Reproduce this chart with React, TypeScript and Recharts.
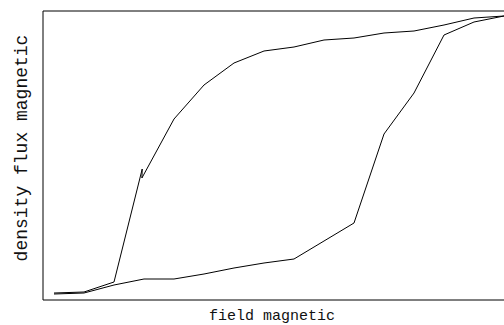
import React from 'react';
import { LineChart, Line, XAxis, YAxis, ReferenceArea, Customized } from 'recharts';

// Magnetic field (arbitrary units) and flux density (arbitrary units), traced in loop order
const upperField = [0, 1, 2, 2.94, 2.93, 4, 5, 6, 7, 8, 9, 10, 11, 12, 13, 14, 15];
const upperFlux = [1, 2, 12, 125, 116, 175, 209, 231, 243, 247, 254, 256, 261, 263, 269, 276, 278];
const lowerField = [14, 13, 12, 11, 10, 9, 8, 7, 6, 5, 4, 3, 2, 1, 0];
const lowerFlux = [272, 259, 201, 160, 71, 53, 35, 31, 26, 20, 15, 15, 9, 1, 0];

const xLabel = 'field magnetic';
const yLabel = 'density flux magnetic';

const data = [
  ...upperField.map((h, i) => ({ h, b: upperFlux[i] })),
  ...lowerField.map((h, i) => ({ h, b: lowerFlux[i] })),
];

const X_DOMAIN: [number, number] = [-0.367, 15.4];
const Y_DOMAIN: [number, number] = [-6, 283];

const Labels = () => (
  <g fontFamily="'Liberation Mono', 'DejaVu Sans Mono', monospace" fill="#111">
    <text x={272} y={320} fontSize={15} textAnchor="middle">{xLabel}</text>
    <text x={27} y={148} fontSize={18} textAnchor="middle" transform="rotate(-90 27 148)">{yLabel}</text>
  </g>
);

export default function App() {
  return (
    <div style={{ position: 'absolute', left: 0, top: 0, width: 504, height: 325, overflow: 'hidden', background: '#fff' }}>
      <LineChart width={530} height={325} data={data} margin={{ top: 11, left: 43, right: 14, bottom: 25 }}>
        <XAxis dataKey="h" type="number" domain={X_DOMAIN} hide allowDataOverflow />
        <YAxis type="number" domain={Y_DOMAIN} hide allowDataOverflow />
        <ReferenceArea x1={X_DOMAIN[0]} x2={X_DOMAIN[1]} y1={Y_DOMAIN[0]} y2={Y_DOMAIN[1]} fill="none" stroke="#000" strokeWidth={1} ifOverflow="visible" />
        <Line dataKey="b" type="linear" stroke="#000" strokeWidth={1} dot={false} isAnimationActive={false} />
        <Customized component={Labels} />
      </LineChart>
    </div>
  );
}
